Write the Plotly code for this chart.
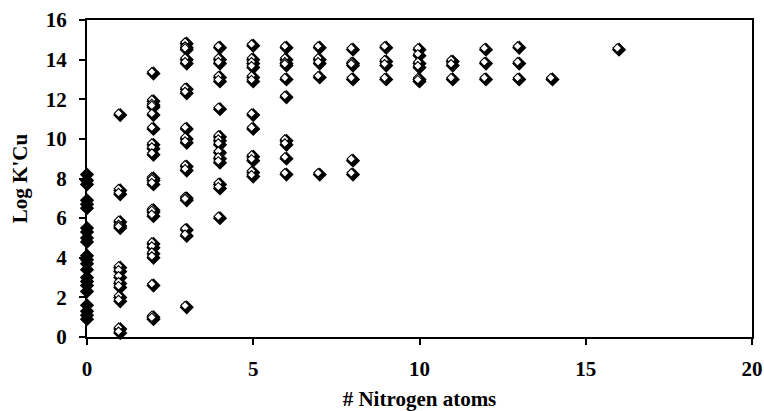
import plotly.graph_objects as go

# Log K'Cu values grouped by number of nitrogen atoms in the ligand
logk_n0 = [8.2, 7.9, 7.7, 6.9, 6.7, 6.5, 5.5, 5.3, 5.0, 4.8, 4.1, 3.9, 3.7, 3.4,
           3.0, 2.8, 2.6, 2.3, 1.6, 1.3, 1.1, 0.9]
logk_n1 = [11.2, 7.4, 7.2, 5.8, 5.6, 5.5, 3.5, 3.3, 3.0, 2.7, 2.5, 2.0, 1.8, 0.4, 0.2]
logk_n2 = [13.3, 11.9, 11.7, 11.6, 11.2, 10.5, 9.7, 9.5, 9.2, 8.0, 7.9, 7.7, 6.4,
           6.3, 6.1, 4.7, 4.5, 4.2, 4.0, 2.6, 1.0, 0.9]
logk_n3 = [14.8, 14.6, 14.5, 14.0, 13.8, 12.5, 12.3, 10.5, 10.0, 9.8, 8.6, 8.4,
           7.0, 6.9, 5.4, 5.1, 1.5]
logk_n4 = [14.6, 14.0, 13.8, 13.1, 12.9, 11.5, 10.1, 9.9, 9.7, 9.3, 9.0, 8.8,
           7.7, 7.5, 6.0]
logk_n5 = [14.7, 14.0, 13.8, 13.6, 13.1, 12.9, 11.2, 10.5, 9.1, 8.9, 8.3, 8.1]
logk_n6 = [14.6, 14.0, 13.8, 13.7, 13.0, 12.1, 9.9, 9.7, 9.0, 8.2]
logk_n7 = [14.6, 14.0, 13.8, 13.1, 8.2]
logk_n8 = [14.5, 13.8, 13.7, 13.0, 8.9, 8.2]
logk_n9 = [14.6, 13.9, 13.7, 13.0]
logk_n10 = [14.5, 14.2, 13.8, 13.6, 13.0, 12.9]
logk_n11 = [13.9, 13.7, 13.0]
logk_n12 = [14.5, 13.8, 13.0]
logk_n13 = [14.6, 13.8, 13.0]
logk_n14 = [13.0]
logk_n16 = [14.5]

groups = [(0, logk_n0), (1, logk_n1), (2, logk_n2), (3, logk_n3), (4, logk_n4),
          (5, logk_n5), (6, logk_n6), (7, logk_n7), (8, logk_n8), (9, logk_n9),
          (10, logk_n10), (11, logk_n11), (12, logk_n12), (13, logk_n13),
          (14, logk_n14), (16, logk_n16)]

nitrogen = []
logk = []
for n, vals in groups:
    nitrogen += [n] * len(vals)
    logk += vals

x_ticks = [0, 5, 10, 15, 20]
y_ticks = [0, 2, 4, 6, 8, 10, 12, 14, 16]

# plot-area geometry (pixels) used to shift the highlight layer
W, H = 665, 317
ML, MR, MT, MB = 87, 12, 20, 74
shift = 1.7
x_rng = [0, 20]
y_rng = [0, 16]
dx = shift * (x_rng[1] - x_rng[0]) / W
dy = shift * (y_rng[1] - y_rng[0]) / H

font = dict(family="Liberation Serif, Times New Roman, serif", size=21,
            color="black", weight="bold")

fig = go.Figure()
# dark body of each diamond
fig.add_trace(go.Scatter(
    x=nitrogen, y=logk, mode="markers", cliponaxis=False,
    marker=dict(symbol="diamond", size=11, color="black", line=dict(width=0)),
    hoverinfo="x+y", showlegend=False))
# light face with a thin rim, nudged up-left on a twin pair of axes
fig.add_trace(go.Scatter(
    x=nitrogen, y=logk, mode="markers", cliponaxis=False, xaxis="x2", yaxis="y2",
    marker=dict(symbol="diamond", size=6.6, color="white",
                line=dict(width=1.1, color="black")),
    hoverinfo="skip", showlegend=False))

fig.update_layout(
    template="none",
    width=764, height=411,
    margin=dict(l=ML, r=MR, t=MT, b=MB, autoexpand=False),
    paper_bgcolor="white", plot_bgcolor="white",
    font=font,
    xaxis=dict(range=x_rng, tickvals=x_ticks, showgrid=False, zeroline=False,
               automargin=False,
               showline=True, linecolor="black", linewidth=2, mirror=True,
               ticks="outside", ticklen=6, tickwidth=1.5, tickcolor="black",
               ticklabelstandoff=6, tickfont=font,
               title=dict(text="# Nitrogen atoms", font=font, standoff=14)),
    yaxis=dict(range=y_rng, tickvals=y_ticks, showgrid=False, zeroline=False,
               automargin=False,
               showline=True, linecolor="black", linewidth=2, mirror=True,
               ticks="outside", ticklen=6, tickwidth=1.5, tickcolor="black",
               ticklabelstandoff=8, tickfont=font,
               title=dict(text="Log K'Cu", font=font, standoff=12)),
    xaxis2=dict(range=[x_rng[0] + dx, x_rng[1] + dx], overlaying="x", anchor="y2",
                visible=False),
    yaxis2=dict(range=[y_rng[0] - dy, y_rng[1] - dy], overlaying="y", anchor="x2",
                visible=False),
)

fig.write_html("out.html")
